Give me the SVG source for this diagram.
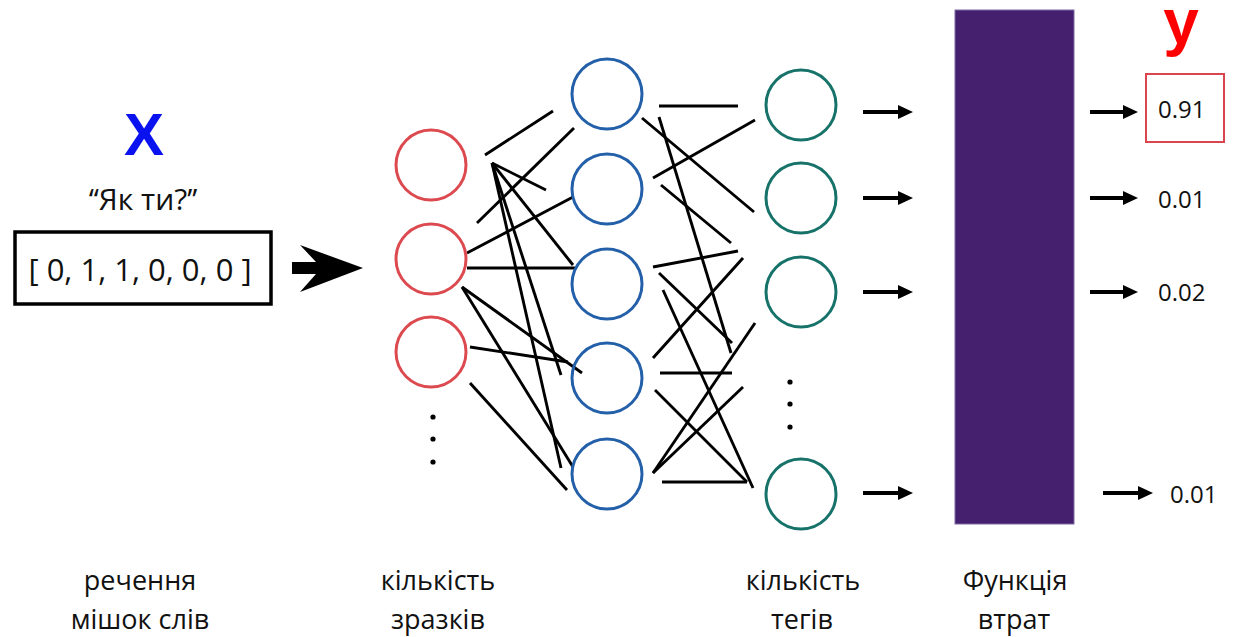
<svg xmlns="http://www.w3.org/2000/svg" width="1236" height="637" viewBox="0 0 1236 637">
  <style>
    .lbl { font-family: "Open Sans", "Liberation Sans", sans-serif; fill: #111; }
    .cap { font-size: 27px; text-anchor: middle; }
    .val { font-size: 24px; }
    .in  { fill: none; stroke: #dc4a50; stroke-width: 3; }
    .hid { fill: none; stroke: #2460a9; stroke-width: 3; }
    .out { fill: none; stroke: #17736a; stroke-width: 3; }
    .edge line { stroke: #000; stroke-width: 2.9; stroke-linecap: butt; }
    .arr { stroke: #000; stroke-width: 4; marker-end: url(#ah); }
    .dot { fill: #000; }
  </style>
  <defs>
    <marker id="ah" viewBox="0 0 15 14" refX="7" refY="7" markerWidth="15" markerHeight="14" markerUnits="userSpaceOnUse" orient="auto">
      <path d="M0,0 L15,7 L0,14 Z" fill="#000"/>
    </marker>
  </defs>

  <rect width="1236" height="637" fill="#fff"/>

  <!-- input: sentence as bag of words -->
  <g id="input">
    <text x="144" y="155" text-anchor="middle" font-family="Liberation Sans, Arial, sans-serif" font-weight="bold" font-size="60" fill="#0b12f0">X</text>
    <text class="lbl" x="143" y="210" text-anchor="middle" font-size="30">‘‘Як ти?’’</text>
    <rect x="15" y="232" width="256" height="72" fill="#fff" stroke="#000" stroke-width="3.5"/>
    <text class="lbl" x="140" y="281" text-anchor="middle" font-size="31">[ 0, 1, 1, 0, 0, 0 ]</text>
    <polygon points="292,262 316,262 300,245 363,268 300,292 316,274 292,274" fill="#000"/>
  </g>

  <!-- connections between layers -->
  <g id="connectors" class="edge">
    <line x1="485" y1="155" x2="553" y2="111"/>
    <line x1="477" y1="223" x2="574" y2="128"/>
    <line x1="492" y1="163" x2="546" y2="190"/>
    <line x1="492" y1="163" x2="573" y2="265"/>
    <line x1="492" y1="163" x2="561" y2="375"/>
    <line x1="492" y1="163" x2="561" y2="468"/>
    <line x1="467" y1="253" x2="573" y2="197"/>
    <line x1="467" y1="268" x2="575" y2="268"/>
    <line x1="462" y1="287" x2="582" y2="373"/>
    <line x1="462" y1="287" x2="573" y2="467"/>
    <line x1="470" y1="347" x2="568" y2="362"/>
    <line x1="470" y1="383" x2="567" y2="490"/>

    <line x1="659" y1="106" x2="738" y2="106"/>
    <line x1="642" y1="118" x2="754" y2="212"/>
    <line x1="659" y1="117" x2="731" y2="353"/>
    <line x1="653" y1="178" x2="755" y2="120"/>
    <line x1="661" y1="185" x2="731" y2="243"/>
    <line x1="653" y1="267" x2="738" y2="251"/>
    <line x1="659" y1="273" x2="732" y2="343"/>
    <line x1="663" y1="290" x2="753" y2="488"/>
    <line x1="743" y1="258" x2="653" y2="358"/>
    <line x1="660" y1="373" x2="732" y2="373"/>
    <line x1="755" y1="323" x2="653" y2="473"/>
    <line x1="743" y1="387" x2="653" y2="473"/>
    <line x1="655" y1="390" x2="747" y2="482"/>
    <line x1="662" y1="482" x2="747" y2="482"/>
  </g>

  <!-- input layer -->
  <g id="layer-input">
    <circle class="in" cx="431" cy="165" r="35"/>
    <circle class="in" cx="431" cy="259" r="35"/>
    <circle class="in" cx="431" cy="352" r="35"/>
    <circle class="dot" cx="433" cy="417" r="2.6"/>
    <circle class="dot" cx="433" cy="439" r="2.6"/>
    <circle class="dot" cx="433" cy="462" r="2.6"/>
  </g>

  <!-- hidden layer -->
  <g id="layer-hidden">
    <circle class="hid" cx="607" cy="94" r="35"/>
    <circle class="hid" cx="607" cy="189" r="35"/>
    <circle class="hid" cx="607" cy="284" r="35"/>
    <circle class="hid" cx="607" cy="378" r="35"/>
    <circle class="hid" cx="607" cy="474" r="35"/>
  </g>

  <!-- output layer -->
  <g id="layer-output">
    <circle class="out" cx="801" cy="105" r="35"/>
    <circle class="out" cx="801" cy="198" r="35"/>
    <circle class="out" cx="801" cy="292" r="35"/>
    <circle class="out" cx="801" cy="494" r="35"/>
    <circle class="dot" cx="790" cy="382" r="2.6"/>
    <circle class="dot" cx="790" cy="404" r="2.6"/>
    <circle class="dot" cx="790" cy="427" r="2.6"/>
  </g>

  <!-- arrows into the loss -->
  <g id="to-loss">
    <line class="arr" x1="863" y1="112" x2="905" y2="112"/>
    <line class="arr" x1="863" y1="198" x2="905" y2="198"/>
    <line class="arr" x1="863" y1="292" x2="905" y2="292"/>
    <line class="arr" x1="863" y1="493" x2="905" y2="493"/>
  </g>

  <!-- loss function -->
  <g id="loss">
    <rect x="955" y="10" width="119" height="514" fill="#45206f" stroke="#7a6aa3" stroke-width="1"/>
  </g>

  <!-- predicted values -->
  <g id="outputs">
    <text x="1181" y="44" text-anchor="middle" font-family="Liberation Sans, Arial, sans-serif" font-weight="bold" font-size="64" fill="#f00">y</text>
    <rect x="1146" y="74" width="78" height="68" fill="none" stroke="#d9464f" stroke-width="2"/>
    <line class="arr" x1="1090" y1="112" x2="1130" y2="112"/>
    <line class="arr" x1="1090" y1="198" x2="1130" y2="198"/>
    <line class="arr" x1="1090" y1="292" x2="1130" y2="292"/>
    <line class="arr" x1="1103" y1="493" x2="1145" y2="493"/>
    <text class="lbl val" x="1158" y="118">0.91</text>
    <text class="lbl val" x="1158" y="208">0.01</text>
    <text class="lbl val" x="1158" y="301">0.02</text>
    <text class="lbl val" x="1170" y="503">0.01</text>
  </g>

  <!-- captions -->
  <g id="captions">
    <text class="lbl cap" x="140" y="590">речення</text>
    <text class="lbl cap" x="140" y="629">мішок слів</text>
    <text class="lbl cap" x="438" y="590">кількість</text>
    <text class="lbl cap" x="438" y="629">зразків</text>
    <text class="lbl cap" x="803" y="590">кількість</text>
    <text class="lbl cap" x="802" y="629">тегів</text>
    <text class="lbl cap" x="1015" y="590">Функція</text>
    <text class="lbl cap" x="1014" y="629">втрат</text>
  </g>
</svg>
